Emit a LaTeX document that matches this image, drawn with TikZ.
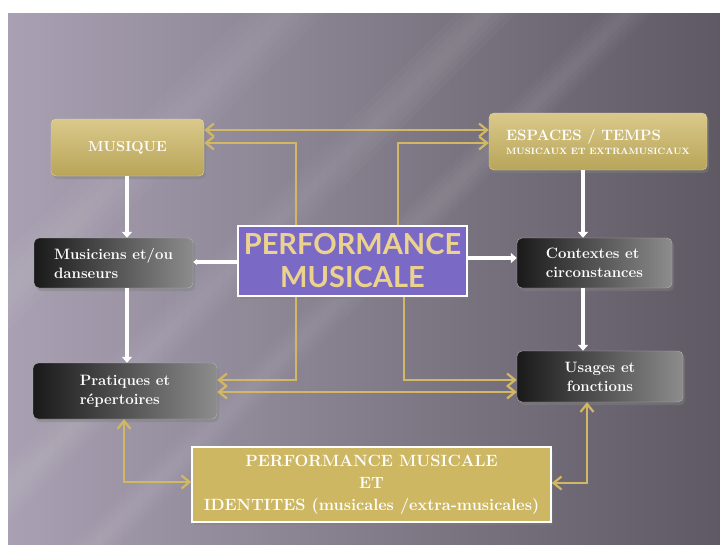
\documentclass[tikz,border=0pt]{standalone}
\usepackage{fontspec}
\newfontfamily\titlefont{Lato}
\usetikzlibrary{arrows.meta,shadows}
\definecolor{goldline}{HTML}{D2B862}
\definecolor{goldfill}{HTML}{CDB763}
\definecolor{purplefill}{HTML}{7B69C6}
\definecolor{titlegold}{HTML}{EBD38E}
\definecolor{bgleft}{HTML}{A9A1B3}
\definecolor{bgmid}{HTML}{837C8C}
\definecolor{bgright}{HTML}{5E5963}
\tikzset{
  boxtext/.style={font=\bfseries\fontsize{15}{19}\selectfont,text=white,align=left},
  darkbox/.style={boxtext,rounded corners=5pt,left color=black!90,right color=black!45,
    draw=black!30,drop shadow={opacity=0.45,shadow xshift=2pt,shadow yshift=-3pt}},
  goldbox/.style={boxtext,rounded corners=5pt,top color=goldfill!75!white,bottom color=goldfill!90!black,
    draw=goldfill!60!white,drop shadow={opacity=0.45,shadow xshift=2pt,shadow yshift=-3pt}},
  goldarrow/.style={draw=goldline,line width=2.2pt,>={Straight Barb[length=8pt,width=13pt]}},
  whitearrow/.style={draw=white,line width=3.5pt,->,>={Triangle[length=6pt,width=10pt]}}
}
\begin{document}
\begin{tikzpicture}[x=1pt,y=-1pt]
  \useasboundingbox (0,0) rectangle (720,544);
  % fond
  \shade[left color=bgleft,middle color=bgmid,right color=bgright] (8,13) rectangle (720,544);
  \begin{scope}
    \clip (8,13) rectangle (720,544);
    \foreach \c/\s in {298/40,500/30,640/24}
      \foreach \w in {0.25,0.5,0.75,1}
        \fill[white,opacity=0.025] (8,{\c-8-\w*\s}) -- ({\c-13-\w*\s},13) -- ({\c-13+\w*\s},13)
          -- (8,{\c-8+\w*\s}) -- cycle;
  \end{scope}

  % noeuds
  \node[goldbox,minimum width=153pt,minimum height=57pt,font=\bfseries\fontsize{14.5}{19}\selectfont]
    (musique) at (127.5,147.5) {MUSIQUE};
  \node[goldbox,minimum width=218pt,minimum height=57pt] (espaces) at (598,141.5)
    {ESPACES / TEMPS\\[-5pt]{\fontsize{9.2}{10}\selectfont MUSICAUX ET EXTRAMUSICAUX}};
  \node[darkbox,minimum width=159pt,minimum height=50pt] (musiciens) at (113.5,263) {Musiciens et/ou\\danseurs};
  \node[darkbox,minimum width=155pt,minimum height=50pt] (contextes) at (594.5,263) {Contextes et\\circonstances};
  \node[darkbox,minimum width=184pt,minimum height=56pt] (pratiques) at (125,391) {Pratiques et\\répertoires};
  \node[darkbox,minimum width=166pt,minimum height=51pt,align=center] (usages) at (600,376.5) {Usages et\\fonctions};
  \node[draw=white,line width=1.5pt,fill=purplefill,minimum width=229pt,minimum height=70pt,
    font=\titlefont\bfseries\fontsize{29}{33}\selectfont,text=titlegold,align=center,
    drop shadow={opacity=0.4,shadow xshift=2pt,shadow yshift=-3pt}] (perf) at (352.5,261)
    {PERFORMANCE\\MUSICALE};
  \node[draw=white,line width=1.5pt,fill=goldfill,minimum width=359pt,minimum height=75pt,
    font=\bfseries\fontsize{16.3}{22}\selectfont,text=white,align=center,
    drop shadow={opacity=0.4,shadow xshift=2pt,shadow yshift=-3pt}] (identites) at (371.5,484.5)
    {PERFORMANCE MUSICALE\\ET\\IDENTITES (musicales /extra-musicales)};

  % fleches blanches
  \draw[whitearrow] (musique.south -| 127,0) -- (musiciens.north -| 127,0);
  \draw[whitearrow] (musiciens.south -| 127,0) -- (pratiques.north -| 127,0);
  \draw[whitearrow] (espaces.south -| 583,0) -- (contextes.north -| 583,0);
  \draw[whitearrow] (contextes.south -| 583,0) -- (usages.north -| 583,0);
  \draw[whitearrow,>={Triangle[length=4pt,width=6pt]}] (perf.west |- 0,262) -- (musiciens.east |- 0,262);
  \draw[whitearrow,line width=4.5pt] (perf.east |- 0,258) -- (contextes.west |- 0,258);

  % fleches dorees
  \draw[goldarrow,<->] (musique.east |- 0,130) -- (espaces.west |- 0,130);
  \draw[goldarrow,->] (perf.north -| 296,0) |- (musique.east |- 0,143);
  \draw[goldarrow,->] (perf.north -| 398,0) |- (espaces.west |- 0,143);
  \draw[goldarrow,->] (perf.south -| 296,0) |- (pratiques.east |- 0,380);
  \draw[goldarrow,->] (perf.south -| 404,0) |- (usages.west |- 0,380);
  \draw[goldarrow,<->] (pratiques.east |- 0,392) -- (usages.west |- 0,392);
  \draw[goldarrow,<->] (pratiques.south -| 124,0) |- (identites.west |- 0,482);
  \draw[goldarrow,<->] (usages.south -| 587,0) |- (identites.east |- 0,483);
\end{tikzpicture}
\end{document}
